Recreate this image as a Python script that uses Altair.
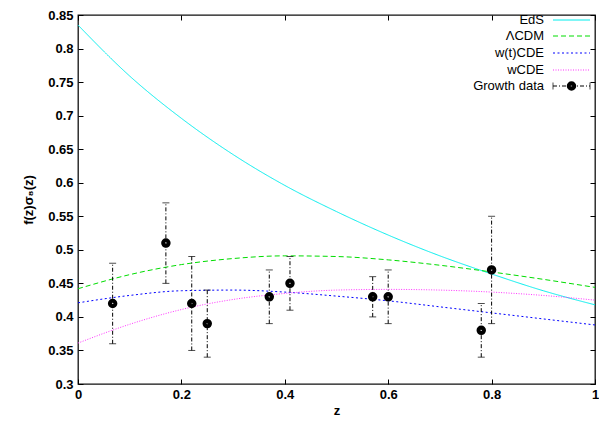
import altair as alt
import pandas as pd

# ---------------- data ----------------
z_grid = [0.0, 0.1, 0.2, 0.3, 0.4, 0.5, 0.6, 0.7, 0.8, 0.9, 1.0]
eds = [0.835, 0.759, 0.696, 0.642, 0.596, 0.557, 0.522, 0.491, 0.464, 0.439, 0.418]
lcdm = [0.442, 0.463, 0.478, 0.487, 0.491, 0.490, 0.485, 0.477, 0.467, 0.456, 0.444]
wtcde = [0.421, 0.432, 0.439, 0.440, 0.437, 0.431, 0.424, 0.415, 0.406, 0.397, 0.388]
wcde = [0.361, 0.389, 0.411, 0.426, 0.435, 0.440, 0.441, 0.440, 0.437, 0.432, 0.425]

data_z = [0.067, 0.17, 0.22, 0.25, 0.37, 0.41, 0.57, 0.60, 0.78, 0.80]
data_f = [0.42, 0.51, 0.42, 0.39, 0.43, 0.45, 0.43, 0.43, 0.38, 0.47]
data_err = [0.06, 0.06, 0.07, 0.05, 0.04, 0.04, 0.03, 0.04, 0.04, 0.08]

series_names = ["EdS", "ΛCDM", "w(t)CDE", "wCDE"]
series_colors = ["#00eeee", "#00dd00", "#0000ff", "#ff33ff"]
series_dashes = [[1, 0], [5, 3], [2, 2.5], [1, 1.5]]
data_label = "Growth data"

x_ticks = [0, 0.2, 0.4, 0.6, 0.8, 1.0]
y_ticks = [0.3, 0.35, 0.4, 0.45, 0.5, 0.55, 0.6, 0.65, 0.7, 0.75, 0.8, 0.85]

FONT = "Liberation Sans"

# ---------------- tables ----------------
rows = []
for name, vals in zip(series_names, [eds, lcdm, wtcde, wcde]):
    for z, v in zip(z_grid, vals):
        rows.append({"series": name, "z": z, "v": v})
curves = pd.DataFrame(rows)

pts = pd.DataFrame({
    "z": data_z,
    "f": data_f,
    "lo": [f - e for f, e in zip(data_f, data_err)],
    "hi": [f + e for f, e in zip(data_f, data_err)],
})

leg = pd.DataFrame({"series": series_names, "py": [5, 21, 38, 55]})
leg_all = pd.DataFrame({"label": series_names + [data_label], "py": [5, 21, 38, 55, 71]})
leg_data = pd.DataFrame({"py": [71]})

xs = alt.Scale(domain=[0, 1], nice=False, zero=False)
ys = alt.Scale(domain=[0.3, 0.85], nice=False, zero=False)
cscale = alt.Scale(domain=series_names, range=series_colors)
dscale = alt.Scale(domain=series_names, range=series_dashes)

common_lbl = dict(labelFont=FONT, labelFontSize=13, labelFontWeight="bold",
                  labelColor="black", tickColor="black", tickSize=5, offset=-5,
                  domain=False, grid=False, labelOverlap=False, labelFlush=False)

ax_bottom = alt.Axis(orient="bottom", values=x_ticks, format="~g", labelPadding=4,
                     title="z", titleFont=FONT, titleFontSize=13, titleFontWeight="bold",
                     titleColor="black", titlePadding=3, **common_lbl)
ax_left = alt.Axis(orient="left", values=y_ticks, format=".2~f", labelPadding=5,
                   title="f(z)σ₈(z)", titleFont=FONT, titleFontSize=13, titleFontWeight="bold",
                   titleColor="black", titlePadding=12, **common_lbl)
ax_top = alt.Axis(orient="top", values=x_ticks, labels=False, tickSize=5, offset=-5,
                  domain=False, grid=False, title=None, tickColor="black")
ax_right = alt.Axis(orient="right", values=y_ticks, labels=False, tickSize=5, offset=-5,
                    domain=False, grid=False, title=None, tickColor="black")

lines = alt.Chart(curves).mark_line(strokeWidth=1, interpolate="monotone").encode(
    x=alt.X("z:Q", scale=xs, axis=ax_bottom),
    y=alt.Y("v:Q", scale=ys, axis=ax_left),
    color=alt.Color("series:N", scale=cscale, legend=None),
    strokeDash=alt.StrokeDash("series:N", scale=dscale, legend=None),
    detail="series:N",
)

ebars = alt.Chart(pts).mark_rule(color="black", strokeWidth=1, strokeDash=[4, 2, 1, 2]).encode(
    x=alt.X("z:Q", scale=xs, axis=None),
    y=alt.Y("lo:Q", scale=ys, axis=None),
    y2="hi:Q",
)
cap_lo = alt.Chart(pts).mark_tick(color="black", orient="horizontal", size=7, thickness=1).encode(
    x=alt.X("z:Q", scale=xs, axis=None),
    y=alt.Y("lo:Q", scale=ys, axis=None),
)
cap_hi = alt.Chart(pts).mark_tick(color="black", orient="horizontal", size=7, thickness=1).encode(
    x=alt.X("z:Q", scale=xs, axis=None),
    y=alt.Y("hi:Q", scale=ys, axis=None),
)
points = alt.Chart(pts).mark_point(filled=False, color="black", strokeWidth=4, size=30, opacity=1).encode(
    x=alt.X("z:Q", scale=xs, axis=ax_top),
    y=alt.Y("f:Q", scale=ys, axis=ax_right),
)

# ---------------- legend (key) ----------------
leg_text = alt.Chart(leg_all).mark_text(align="right", baseline="middle", font=FONT,
                                        fontSize=13, color="black").encode(
    x=alt.value(466),
    y=alt.Y("py:Q", scale=None),
    text="label:N",
)
leg_lines = alt.Chart(leg).mark_rule(strokeWidth=1).encode(
    x=alt.value(475), x2=alt.value(512),
    y=alt.Y("py:Q", scale=None),
    color=alt.Color("series:N", scale=cscale, legend=None),
    strokeDash=alt.StrokeDash("series:N", scale=dscale, legend=None),
)
leg_dline = alt.Chart(leg_data).mark_rule(color="black", strokeWidth=1, strokeDash=[4, 2, 1, 2]).encode(
    x=alt.value(475), x2=alt.value(512), y=alt.Y("py:Q", scale=None),
)
leg_cap1 = alt.Chart(leg_data).mark_tick(color="black", orient="vertical", size=7, thickness=1).encode(
    x=alt.value(475), y=alt.Y("py:Q", scale=None),
)
leg_cap2 = alt.Chart(leg_data).mark_tick(color="black", orient="vertical", size=7, thickness=1).encode(
    x=alt.value(512), y=alt.Y("py:Q", scale=None),
)
leg_pt = alt.Chart(leg_data).mark_point(filled=False, color="black", strokeWidth=4, size=30, opacity=1).encode(
    x=alt.value(493.5), y=alt.Y("py:Q", scale=None),
)

chart = alt.layer(
    lines, ebars, cap_lo, cap_hi, points,
    leg_text, leg_lines, leg_dline, leg_cap1, leg_cap2, leg_pt,
).resolve_axis(x="independent", y="independent").properties(
    width=517, height=369,
    autosize=alt.AutoSizeParams(type="none"),
    padding={"left": 70, "top": 7, "right": 4, "bottom": 34},
    background="white",
).configure_view(stroke="#111", strokeWidth=1.3)

chart.save("out.html", embed_options={"renderer": "svg", "actions": False})
